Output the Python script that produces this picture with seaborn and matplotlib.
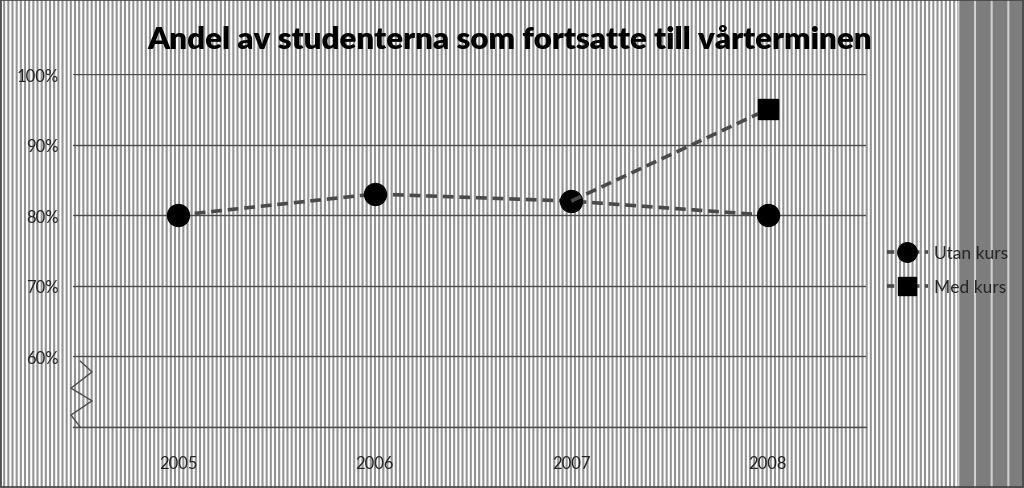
import numpy as np
import pandas as pd
import matplotlib
matplotlib.use("Agg")
import matplotlib.pyplot as plt
import seaborn as sns
from matplotlib.patches import Rectangle
from matplotlib.lines import Line2D

# ---------- DATA ----------
years = ["2005", "2006", "2007", "2008"]
utan_kurs = [80, 83, 82, 80]
med_kurs = [np.nan, np.nan, 82, 95]
y_ticks = [50, 60, 70, 80, 90, 100]
y_labels = ["", "60%", "70%", "80%", "90%", "100%"]

df = pd.DataFrame({"year": years, "Utan kurs": utan_kurs, "Med kurs": med_kurs})

sns.set_style("white")
plt.rcParams["font.family"] = ["Lato", "DejaVu Sans"]
plt.rcParams["hatch.color"] = "white"
plt.rcParams["hatch.linewidth"] = 1.5

fig = plt.figure(figsize=(10.24, 4.89), dpi=100)
fig.patch.set_facecolor("#939393")

# striped background
bg = Rectangle((0, 0), 1, 1, transform=fig.transFigure, facecolor="#939393",
               hatch="||||", edgecolor="white", linewidth=0, zorder=-10)
fig.patches.append(bg)
dark = Rectangle((957 / 1024, 0), 1 - 957 / 1024, 1, transform=fig.transFigure,
                 facecolor="#7e7e7e", hatch="|", edgecolor="#d0d0d0",
                 linewidth=0, zorder=-9)
fig.patches.append(dark)
border = Rectangle((0.001, 0.003), 0.998, 0.995, transform=fig.transFigure,
                   facecolor="none", edgecolor="#444444", linewidth=1.2, zorder=-8)
fig.patches.append(border)

ax = fig.add_axes([73 / 1024, 1 - 428 / 489, (866 - 73) / 1024, (428 - 75) / 489])
ax.set_facecolor("none")

sns.lineplot(data=df, x="year", y="Utan kurs", ax=ax, color="#4a4a4a",
             linestyle=(0, (3, 1.6)), linewidth=2.6, marker="o",
             markersize=16, markerfacecolor="black", markeredgecolor="black")
sns.lineplot(data=df.dropna(), x="year", y="Med kurs", ax=ax, color="#4a4a4a",
             linestyle=(0, (3, 1.6)), linewidth=2.6, marker="")
ax.plot([3], [med_kurs[3]], marker="s", markersize=15, color="black",
        linestyle="none")

ax.set_xlim(-0.535, 3.5)
ax.set_ylim(50, 100)
ax.set_yticks(y_ticks)
ax.set_yticklabels(y_labels)
ax.yaxis.grid(True, color="#4a4a4a", linewidth=1)
ax.set_axisbelow(True)
for s in ax.spines.values():
    s.set_visible(False)
ax.spines["bottom"].set_visible(True)
ax.spines["bottom"].set_color("#4a4a4a")
ax.spines["bottom"].set_linewidth(1)
ax.tick_params(axis="y", length=0, pad=10, labelsize=12)
ax.tick_params(axis="x", length=0, pad=20, labelsize=12)
ax.set_xlabel("")
ax.set_ylabel("")

# axis break zigzag
ax.plot([0.009, 0.024, -0.0025, 0.024, -0.0025, 0.009],
        [0.187, 0.156, 0.110, 0.074, 0.034, 0.0],
        transform=ax.transAxes, color="#4a4a4a", linewidth=1, clip_on=False)

fig.text(510 / 1024, 1 - 40 / 489, "Andel av studenterna som fortsatte till vårterminen",
         ha="center", va="center", fontsize=22.5, fontweight="heavy", color="black")

handles = [
    Line2D([0], [0], color="#4a4a4a", linestyle=(0, (2, 1.5)), linewidth=2.6,
           marker="o", markersize=14, markerfacecolor="black", markeredgecolor="black"),
    Line2D([0], [0], color="#4a4a4a", linestyle=(0, (2, 1.5)), linewidth=2.6,
           marker="s", markersize=13, markerfacecolor="black", markeredgecolor="black"),
]
fig.legend(handles, ["Utan kurs", "Med kurs"], loc="center left",
           bbox_to_anchor=(871 / 1024, 1 - 271 / 489), frameon=False,
           fontsize=12.5, handlelength=2.4, handletextpad=0.3, labelspacing=1.0)

fig.savefig("out.png", dpi=100)
